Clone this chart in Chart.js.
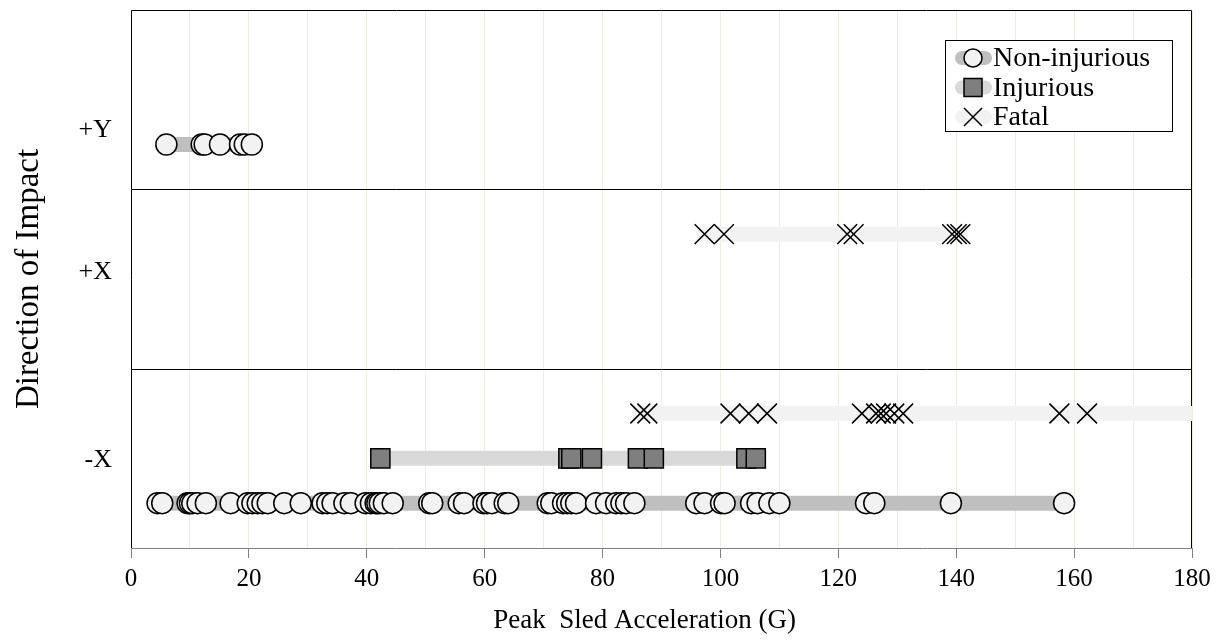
<!DOCTYPE html>
<html>
<head>
<meta charset="utf-8">
<script src="https://cdn.jsdelivr.net/npm/chart.js@4.4.1/dist/chart.umd.min.js"></script>
<style>
  html, body { margin: 0; background: #fff; }
  #chartWrapper { width: 1225px; height: 641px; }
</style>
</head>
<body>
<div id="chartWrapper"><canvas id="impactChart"></canvas></div>
<script>
// direction bands, bottom to top
const directions = ['-X', '+X', '+Y'];
const outcomes = ['Non-injurious', 'Injurious', 'Fatal'];
const xTickLabels = [0, 20, 40, 60, 80, 100, 120, 140, 160, 180];

// peak sled acceleration (G) for each test
const nonInjuriousNegX = [4.5, 5.3, 9.6, 10.0, 10.4, 11.3, 12.7, 16.9, 19.8, 20.6, 21.5, 22.3, 23.2,
  26.0, 28.8, 32.5, 33.3, 34.2, 36.2, 37.3, 39.8, 40.7, 41.5, 41.8, 42.2, 42.9, 44.4, 50.6, 51.1,
  55.6, 56.5, 59.8, 60.4, 61.2, 63.4, 64.0, 70.7, 71.3, 73.3, 74.0, 74.7, 75.5, 78.9, 80.6, 82.3,
  83.2, 84.0, 85.4, 95.9, 97.3, 100.1, 100.7, 105.2, 106.3, 108.3, 110.0, 124.7, 126.1, 139.1, 158.3];
const injuriousNegX = [42.3, 74.2, 74.7, 78.2, 86.0, 88.7, 104.4, 106.0];
const fatalNegX = [86.4, 87.6, 101.7, 104.8, 107.9, 124.0, 126.4, 127.2, 128.1, 129.5, 131.0, 157.5, 162.2, 190.0];
const fatalPosX = [97.3, 100.6, 121.5, 122.6, 139.3, 140.1, 140.7];
const nonInjuriousPosY = [6.0, 12.0, 12.5, 15.1, 18.5, 19.3, 20.5];

const FONT = "'Liberation Serif', 'Times New Roman', serif";

// lane of each outcome inside a direction band
const laneOffset = { 'Non-injurious': 0.25, 'Injurious': 0.5, 'Fatal': 0.75 };
// where the direction names sit on the y axis
const directionLabelPos = [0.49, 1.54, 2.33];

const outcomeStyle = {
  'Non-injurious': { line: '#bfbfbf', pointStyle: 'circle', radius: 10.5, fill: '#f2f2f2' },
  'Injurious':     { line: '#d9d9d9', pointStyle: 'rect', radius: 13.5, fill: '#7f7f7f' },
  'Fatal':         { line: '#f2f2f2', pointStyle: 'crossRot', radius: 14, fill: '#000000' }
};

function makeSeries(values, direction, outcome) {
  const st = outcomeStyle[outcome];
  const y = directions.indexOf(direction) + laneOffset[outcome];
  return {
    label: outcome + ' ' + direction,
    data: values.slice().sort((a, b) => a - b).map(v => ({ x: v, y: y })),
    showLine: true,
    borderColor: st.line,
    borderWidth: 15,
    borderCapStyle: 'square',
    pointStyle: st.pointStyle,
    pointRadius: st.radius,
    pointBackgroundColor: st.fill,
    pointBorderColor: '#000',
    pointBorderWidth: 1.5,
    clip: 0
  };
}

const framePlugin = {
  id: 'frame',
  beforeDatasetsDraw(chart) {
    const { ctx, chartArea: a, scales } = chart;
    ctx.save();
    ctx.strokeStyle = '#000';
    ctx.lineWidth = 1;
    [1, 2].forEach(v => {
      const y = Math.round(scales.y.getPixelForValue(v)) + 0.5;
      ctx.beginPath();
      ctx.moveTo(a.left, y);
      ctx.lineTo(a.right, y);
      ctx.stroke();
    });
    ctx.beginPath();
    ctx.moveTo(a.left + 0.5, a.bottom);
    ctx.lineTo(a.left + 0.5, a.top + 0.5);
    ctx.lineTo(a.right - 0.5, a.top + 0.5);
    ctx.lineTo(a.right - 0.5, a.bottom);
    ctx.stroke();
    ctx.restore();
  },
  afterDraw(chart) {
    const { ctx, chartArea: a } = chart;
    const bx = a.right - 247, by = a.top + 30, bw = 227, bh = 91;
    ctx.save();
    ctx.fillStyle = '#fff';
    ctx.fillRect(bx, by, bw, bh);
    ctx.strokeStyle = '#000';
    ctx.lineWidth = 1;
    ctx.strokeRect(bx + 0.5, by + 0.5, bw, bh);
    outcomes.forEach((name, i) => {
      const st = outcomeStyle[name];
      const cy = by + 18 + i * 29.5;
      ctx.strokeStyle = st.line;
      ctx.lineWidth = 14;
      ctx.lineCap = 'round';
      ctx.beginPath();
      ctx.moveTo(bx + 17, cy);
      ctx.lineTo(bx + 40, cy);
      ctx.stroke();
      ctx.fillStyle = st.fill;
      ctx.strokeStyle = '#000';
      ctx.lineWidth = 1.5;
      ctx.lineCap = 'butt';
      ctx.beginPath();
      if (st.pointStyle === 'circle') {
        ctx.arc(bx + 28, cy, 9, 0, Math.PI * 2);
        ctx.fill(); ctx.stroke();
      } else if (st.pointStyle === 'rect') {
        ctx.rect(bx + 19, cy - 9, 18, 18);
        ctx.fill(); ctx.stroke();
      } else {
        ctx.moveTo(bx + 19, cy - 9); ctx.lineTo(bx + 37, cy + 9);
        ctx.moveTo(bx + 37, cy - 9); ctx.lineTo(bx + 19, cy + 9);
        ctx.stroke();
      }
      ctx.fillStyle = '#000';
      ctx.font = '28px ' + FONT;
      ctx.textBaseline = 'middle';
      ctx.textAlign = 'left';
      ctx.fillText(name, bx + 48, cy + 1);
    });
    ctx.restore();
  }
};

const ctx = document.getElementById('impactChart').getContext('2d');
new Chart(ctx, {
  type: 'scatter',
  data: {
    datasets: [
      makeSeries(nonInjuriousNegX, '-X', 'Non-injurious'),
      makeSeries(injuriousNegX, '-X', 'Injurious'),
      makeSeries(fatalNegX, '-X', 'Fatal'),
      makeSeries(fatalPosX, '+X', 'Fatal'),
      makeSeries(nonInjuriousPosY, '+Y', 'Non-injurious')
    ]
  },
  options: {
    responsive: true,
    maintainAspectRatio: false,
    animation: false,
    layout: { autoPadding: false, padding: { top: 10, right: 33, left: 0, bottom: 0 } },
    plugins: { legend: { display: false }, tooltip: { enabled: false } },
    scales: {
      x: {
        type: 'linear',
        min: 0,
        max: 180,
        afterFit: (scale) => { scale.height = 93; },
        border: { display: true, color: '#808080', width: 1 },
        grid: {
          color: '#eeebe1',
          drawTicks: true,
          tickLength: 10,
          tickColor: (c) => xTickLabels.includes(c.tick.value) ? '#808080' : 'rgba(0,0,0,0)'
        },
        ticks: {
          stepSize: 10,
          autoSkip: false,
          maxRotation: 0,
          padding: 6,
          color: '#000',
          font: { family: FONT, size: 25 },
          callback: (v) => xTickLabels.includes(v) ? String(v) : ''
        },
        title: {
          display: true,
          text: 'Peak  Sled Acceleration (G)     ',
          color: '#000',
          font: { family: FONT, size: 27 },
          padding: { top: 0, bottom: 4 }
        }
      },
      y: {
        type: 'linear',
        min: 0,
        max: 3,
        afterFit: (scale) => { scale.width = 131; scale.paddingTop = 0; scale.paddingBottom = 0; },
        afterBuildTicks: (scale) => { scale.ticks = directionLabelPos.map(v => ({ value: v })); },
        border: { display: false },
        grid: { display: false, drawTicks: false },
        ticks: {
          padding: 19,
          color: '#000',
          font: { family: FONT, size: 26 },
          callback: (v, i) => directions[i]
        },
        title: {
          display: true,
          text: 'Direction of Impact',
          color: '#000',
          font: { family: FONT, size: 33 },
          padding: { top: 10, bottom: 0 }
        }
      }
    }
  },
  plugins: [framePlugin]
});
</script>
</body>
</html>
